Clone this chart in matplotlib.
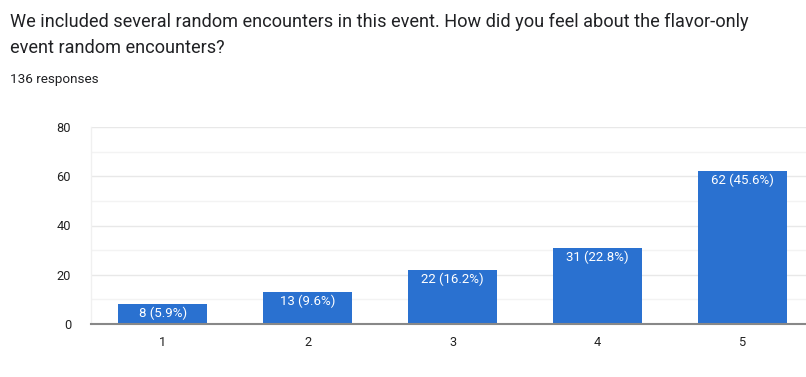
import matplotlib.pyplot as plt
import numpy as np

plt.rcParams['font.family'] = ['Roboto', 'DejaVu Sans']

# survey answers (1-5 scale) and counts
categories = ["1", "2", "3", "4", "5"]
counts = [8, 13, 22, 31, 62]
percents = [5.9, 9.6, 16.2, 22.8, 45.6]
total_responses = 136

fig = plt.figure(figsize=(8.06, 3.77), dpi=100)
ax = fig.add_axes([90.5 / 806, 53 / 377, 724 / 806, 197 / 377])

x = np.arange(len(categories))
bars = ax.bar(x, counts, width=0.615, color="#2a71d0", zorder=3)

for b, c, p in zip(bars, counts, percents):
    ax.text(b.get_x() + b.get_width() / 2, c - 1.1, f"{c} ({p}%)",
            ha="center", va="top", color="white", fontsize=9.5, zorder=4)

ax.set_xlim(-0.5, len(categories) - 0.5)
ax.set_ylim(0, 80)
ax.set_xticks(x)
ax.set_xticklabels(categories)
ax.set_yticks(range(0, 81, 20))
ax.set_yticks(range(10, 80, 20), minor=True)
ax.grid(axis="y", which="major", color="#e8e8e8", linewidth=1, zorder=0)
ax.grid(axis="y", which="minor", color="#f3f3f3", linewidth=1, zorder=0)
ax.tick_params(axis="both", which="both", length=0, labelsize=9.2, colors="#222222")
ax.tick_params(axis="x", pad=9)
ax.tick_params(axis="y", pad=14)
for s in ["top", "right"]:
    ax.spines[s].set_visible(False)
ax.spines["left"].set_color("#f0f0f0")
ax.spines["left"].set_linewidth(1)
ax.spines["bottom"].set_color("#888888")
ax.spines["bottom"].set_linewidth(1.5)
ax.spines["bottom"].set_zorder(5)

fig.text(10 / 806, 1 - 22 / 377, "We included several random encounters in this event. How did you feel about the flavor-only",
         fontsize=13.1, color="#202124", va="center")
fig.text(10 / 806, 1 - 48 / 377, "event random encounters?",
         fontsize=13.1, color="#202124", va="center")
fig.text(10 / 806, 1 - 80 / 377, f"{total_responses} responses",
         fontsize=9.7, color="#202124", va="center")

fig.savefig("out.png", dpi=100)
